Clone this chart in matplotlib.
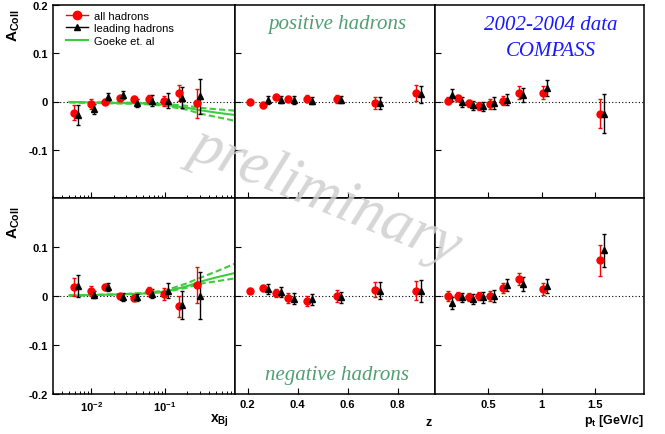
import numpy as np
import matplotlib.pyplot as plt
from matplotlib.lines import Line2D
from matplotlib.ticker import FixedLocator, NullFormatter, LogLocator

# ---------------- data ----------------
# x_Bj bins
xbj_all = [0.0058, 0.0099, 0.0154, 0.0242, 0.038, 0.060, 0.098, 0.155, 0.277]
xbj_lead = [0.0065, 0.011, 0.017, 0.027, 0.042, 0.067, 0.109, 0.172, 0.30]
# z bins
z_all = [0.21, 0.263, 0.312, 0.363, 0.436, 0.557, 0.709, 0.873]
z_lead = [0.283, 0.333, 0.384, 0.457, 0.576, 0.729, 0.895]
# pt bins
pt_all = [0.119, 0.219, 0.319, 0.416, 0.516, 0.641, 0.788, 1.016, 1.547]
pt_lead = [0.156, 0.256, 0.353, 0.453, 0.553, 0.678, 0.825, 1.053, 1.588]

# positive hadrons
pos_xbj_all = [-0.023, -0.0055, 0.0, 0.007, 0.0048, 0.0055, 0.0007, 0.018, -0.004]
pos_xbj_all_err = [0.016, 0.010, 0.005, 0.005, 0.006, 0.008, 0.010, 0.017, 0.030]
pos_xbj_lead = [-0.028, -0.016, 0.0096, 0.0137, -0.003, 0.002, 0.002, 0.008, 0.011]
pos_xbj_lead_err = [0.020, 0.010, 0.008, 0.008, 0.008, 0.012, 0.015, 0.022, 0.036]

pos_z_all = [-0.0007, -0.0075, 0.009, 0.005, 0.0055, 0.005, -0.003, 0.018]
pos_z_all_err = [0.005, 0.006, 0.006, 0.007, 0.007, 0.008, 0.012, 0.016]
pos_z_lead = [0.0034, 0.004, 0.003, 0.002, 0.004, -0.0034, 0.015]
pos_z_lead_err = [0.008, 0.008, 0.009, 0.008, 0.008, 0.013, 0.018]

pos_pt_all = [0.002, 0.0075, -0.004, -0.009, -0.0055, 0.002, 0.0185, 0.0185, -0.025]
pos_pt_all_err = [0.008, 0.006, 0.008, 0.008, 0.010, 0.009, 0.013, 0.014, 0.030]
pos_pt_lead = [0.0137, -0.0007, -0.008, -0.010, -0.0034, 0.004, 0.013, 0.028, -0.025]
pos_pt_lead_err = [0.012, 0.010, 0.010, 0.010, 0.012, 0.011, 0.015, 0.016, 0.040]

# negative hadrons
neg_xbj_all = [0.0185, 0.010, 0.0185, -0.001, -0.004, 0.010, 0.004, -0.021, 0.022]
neg_xbj_all_err = [0.018, 0.010, 0.006, 0.005, 0.007, 0.009, 0.013, 0.021, 0.037]
neg_xbj_lead = [0.020, 0.003, 0.018, -0.002, -0.003, 0.005, 0.011, -0.018, 0.001]
neg_xbj_lead_err = [0.022, 0.008, 0.008, 0.008, 0.008, 0.010, 0.016, 0.028, 0.047]

neg_z_all = [0.011, 0.0164, 0.006, -0.004, -0.0096, 0.0007, 0.013, 0.011]
neg_z_all_err = [0.005, 0.007, 0.008, 0.010, 0.010, 0.012, 0.016, 0.020]
neg_z_lead = [0.0137, 0.008, -0.0055, -0.007, -0.003, 0.011, 0.010]
neg_z_lead_err = [0.010, 0.010, 0.011, 0.012, 0.012, 0.018, 0.022]

neg_pt_all = [0.0007, -0.0007, -0.0014, 0.0007, 0.0, 0.017, 0.035, 0.015, 0.0726]
neg_pt_all_err = [0.010, 0.008, 0.008, 0.008, 0.010, 0.010, 0.012, 0.012, 0.031]
neg_pt_lead = [-0.0137, -0.003, -0.0055, -0.003, 0.0, 0.022, 0.024, 0.020, 0.093]
neg_pt_lead_err = [0.012, 0.010, 0.010, 0.011, 0.012, 0.012, 0.014, 0.014, 0.033]

# Goeke et al. prediction vs x_Bj
goeke_x = [0.005, 0.01, 0.02, 0.05, 0.1, 0.2, 0.3, 0.5, 0.9]
goeke_pos = [-0.001, -0.002, -0.003, -0.004, -0.007, -0.013, -0.018, -0.023, -0.028]
goeke_pos_hi = [-0.001, -0.0015, -0.002, -0.003, -0.005, -0.009, -0.013, -0.016, -0.019]
goeke_pos_lo = [-0.002, -0.003, -0.004, -0.005, -0.009, -0.017, -0.025, -0.032, -0.040]
goeke_neg = [0.001, 0.002, 0.003, 0.005, 0.009, 0.020, 0.029, 0.038, 0.047]
goeke_neg_hi = [0.001, 0.002, 0.003, 0.006, 0.011, 0.026, 0.037, 0.050, 0.066]
goeke_neg_lo = [0.001, 0.002, 0.003, 0.005, 0.008, 0.017, 0.025, 0.030, 0.036]

# ---------------- figure ----------------
sans = ['Liberation Sans', 'DejaVu Sans']
serif = ['Liberation Serif', 'DejaVu Serif']
plt.rcParams['font.family'] = sans
plt.rcParams['mathtext.fontset'] = 'custom'
plt.rcParams['mathtext.rm'] = 'Liberation Sans'
plt.rcParams['mathtext.bf'] = 'Liberation Sans:bold'

fig = plt.figure(figsize=(6.65, 4.35), dpi=100)
W, H = 665.0, 435.0
cols = [(53, 235), (235, 435), (435, 644)]
rows = [(6, 199), (199, 395)]

axes = {}
for r, (y0, y1) in enumerate(rows):
    for c, (x0, x1) in enumerate(cols):
        ax = fig.add_axes([x0 / W, 1 - y1 / H, (x1 - x0) / W, (y1 - y0) / H])
        axes[(r, c)] = ax

green = '#3dcc3d'
red_kw = dict(fmt='o', color='red', ms=5, capsize=1.5, elinewidth=1, capthick=1)
blk_kw = dict(fmt='^', color='black', ms=5, capsize=1.5, elinewidth=1, capthick=1)

panels = {
    (0, 0): (xbj_all, pos_xbj_all, pos_xbj_all_err, xbj_lead, pos_xbj_lead, pos_xbj_lead_err),
    (0, 1): (z_all, pos_z_all, pos_z_all_err, z_lead, pos_z_lead, pos_z_lead_err),
    (0, 2): (pt_all, pos_pt_all, pos_pt_all_err, pt_lead, pos_pt_lead, pos_pt_lead_err),
    (1, 0): (xbj_all, neg_xbj_all, neg_xbj_all_err, xbj_lead, neg_xbj_lead, neg_xbj_lead_err),
    (1, 1): (z_all, neg_z_all, neg_z_all_err, z_lead, neg_z_lead, neg_z_lead_err),
    (1, 2): (pt_all, neg_pt_all, neg_pt_all_err, pt_lead, neg_pt_lead, neg_pt_lead_err),
}

xlims = [(0.003, 0.9), (0.15, 0.95), (0.0, 1.96)]

for (r, c), ax in axes.items():
    xa, ya, ea, xl, yl, el = panels[(r, c)]
    if c == 0:
        ax.set_xscale('log')
        g = [goeke_pos, goeke_pos_hi, goeke_pos_lo] if r == 0 else [goeke_neg, goeke_neg_hi, goeke_neg_lo]
        ax.plot(goeke_x, g[0], color=green, lw=1.5)
        ax.plot(goeke_x, g[1], color=green, lw=1.5, ls=(0, (3, 1.5)))
        ax.plot(goeke_x, g[2], color=green, lw=1.5, ls=(0, (3, 1.5)))
    ax.axhline(0, color='black', lw=0.8, ls=(0, (1, 2)), zorder=1)
    ax.errorbar(xa, ya, yerr=ea, **red_kw)
    ax.errorbar(xl, yl, yerr=el, **blk_kw)
    ax.set_xlim(*xlims[c])
    ax.set_ylim(-0.2, 0.2)
    for s in ax.spines.values():
        s.set_linewidth(1.1)
    ax.tick_params(which='major', direction='in', length=4, width=0.8, labelsize=8)
    ax.tick_params(which='minor', direction='in', length=2.5, width=0.7)
    if c == 0:
        if r == 0:
            ax.set_yticks([-0.1, 0, 0.1, 0.2])
            ax.set_yticklabels(['-0.1', '0', '0.1', '0.2'], fontweight='bold')
        else:
            ax.set_yticks([-0.2, -0.1, 0, 0.1])
            ax.set_yticklabels(['-0.2', '-0.1', '0', '0.1'], fontweight='bold')
        ax.xaxis.set_major_locator(FixedLocator([0.01, 0.1]))
        ax.xaxis.set_minor_locator(LogLocator(base=10, subs=np.arange(2, 10)))
        ax.xaxis.set_minor_formatter(NullFormatter())
        ax.set_xticklabels([r'$\mathbf{10^{-2}}$', r'$\mathbf{10^{-1}}$'])
        ax.set_ylabel(r'$\mathbf{A_{Coll}}$', fontsize=11, rotation=90)
        ax.yaxis.set_label_coords(-0.17, 0.9 if r == 0 else 0.88)
    else:
        ax.set_yticks([-0.1, 0, 0.1])
        ax.set_yticklabels([])
    if c == 1:
        ax.set_xticks([0.2, 0.4, 0.6, 0.8])
        ax.set_xticklabels(['0.2', '0.4', '0.6', '0.8'], fontweight='bold')
    if c == 2:
        ax.set_xticks([0.5, 1.0, 1.5])
        ax.set_xticklabels(['0.5', '1', '1.5'], fontweight='bold')
    if r == 0:
        ax.tick_params(labelbottom=False)

handles = [
    Line2D([], [], color='red', marker='o', ms=6, lw=1),
    Line2D([], [], color='black', marker='^', ms=5, lw=1),
    Line2D([], [], color=green, lw=1.5),
]
axes[(0, 0)].legend(handles, ['all hadrons', 'leading hadrons', 'Goeke et. al'],
                    loc='upper left', frameon=False, fontsize=8,
                    handlelength=2.0, handletextpad=0.5, labelspacing=0.25,
                    borderaxespad=0.1, bbox_to_anchor=(0.04, 1.0))

# axis titles
fig.text(229 / W, 1 - 421 / H, r'$\mathbf{x_{Bj}}$', fontsize=10, ha='right', va='center')
fig.text(432 / W, 1 - 423 / H, 'z', fontsize=9, fontweight='bold', ha='right', va='center')
fig.text(644 / W, 1 - 421 / H, r'$\mathbf{p_{t}}$ [GeV/c]', fontsize=9, fontweight='bold',
         ha='right', va='center')

# annotations
fig.text(337 / W, 1 - 24 / H, 'positive hadrons', family=serif, style='italic',
         fontsize=15, color='#4f9f73', ha='center', va='center')
fig.text(337 / W, 1 - 376 / H, 'negative hadrons', family=serif, style='italic',
         fontsize=15, color='#4f9f73', ha='center', va='center')
fig.text(551 / W, 1 - 25 / H, '2002-2004 data', family=serif, style='italic',
         fontsize=15, color='#1a1aff', ha='center', va='center')
fig.text(551 / W, 1 - 52 / H, 'COMPASS', family=serif, style='italic',
         fontsize=15, color='#1a1aff', ha='center', va='center')
fig.text(326 / W, 1 - 196 / H, 'preliminary', family=serif, style='italic',
         fontsize=44, color='#cfcfcf', alpha=0.85, rotation=-22, ha='center', va='center',
         zorder=10)

fig.savefig('out.png', dpi=100)
